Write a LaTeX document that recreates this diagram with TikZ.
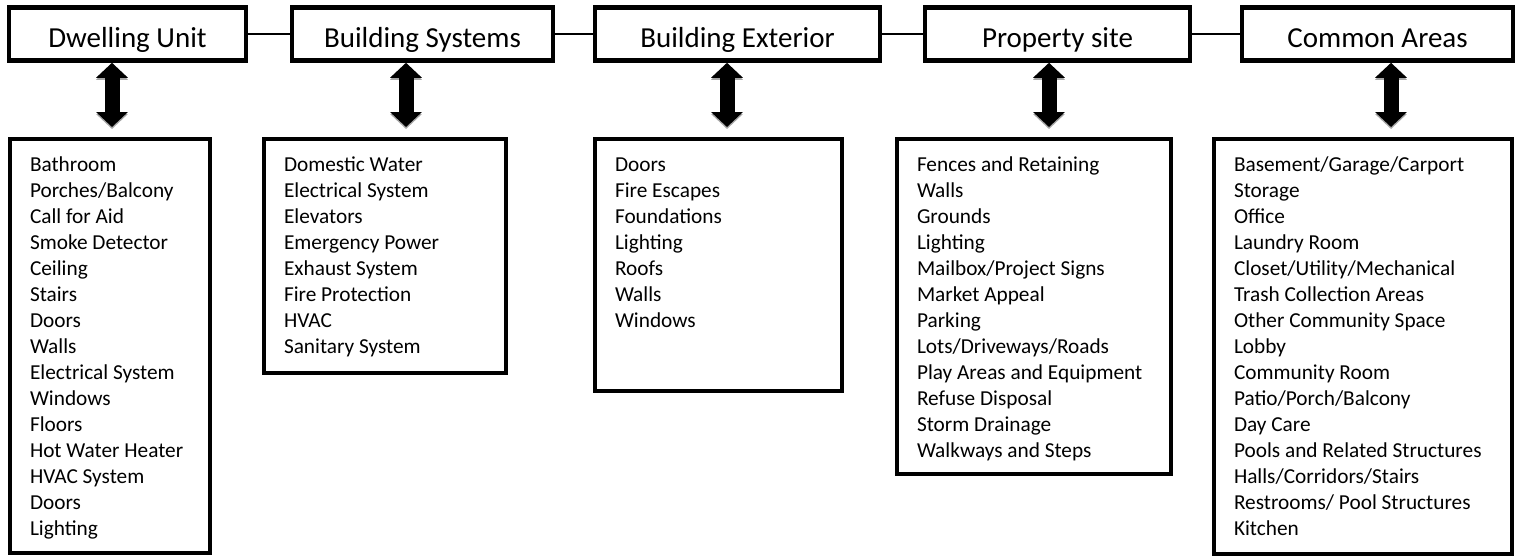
\documentclass[tikz,border=0pt]{standalone}
\usepackage{fontspec}
\setmainfont{Carlito}
\usetikzlibrary{arrows.meta}

\begin{document}
\begin{tikzpicture}[
    x=1pt, y=-1pt,
    topbox/.style={rectangle, draw, line width=4.5pt, minimum height=53pt, text height=26pt, text depth=0pt,
        font=\fontsize{29}{34}\selectfont},
    listbox/.style={rectangle, draw, line width=4.5pt, anchor=north west, outer sep=0pt,
        inner xsep=20pt, inner ysep=0pt, text height=32pt, font=\fontsize{21.3}{26}\selectfont},
    link/.style={line width=1.5pt},
    dblarrow/.style={line width=15pt, {Triangle[width=31pt,length=15pt]}-{Triangle[width=31pt,length=15pt]}, shorten >=12pt},
    arrshadow/.style={dblarrow, gray!70, transform canvas={yshift=-2pt}}
]

\path[use as bounding box, fill=white] (0,0) rectangle (1522,558);

% Top row: the five areas
\node[topbox, minimum width=237pt] (du) at (127.5,34) {Dwelling Unit};
\node[topbox, minimum width=261pt] (bs) at (422.5,34) {Building Systems};
\node[topbox, minimum width=285pt] (be) at (737.5,34) {Building Exterior};
\node[topbox, minimum width=265pt] (ps) at (1057.5,34) {Property site};
\node[topbox, minimum width=271pt] (ca) at (1377.5,34) {Common Areas};

% Links between the areas
\draw[link] (du.east) -- (bs.west);
\draw[link] (bs.east) -- (be.west);
\draw[link] (be.east) -- (ps.west);
\draw[link] (ps.east) -- (ca.west);

% Bottom row: item lists
\node[listbox, minimum width=200pt, text depth=382pt] (list1) at (10,139) {\parbox[t]{160pt}{%
    Bathroom\\Porches/Balcony\\Call for Aid\\Smoke Detector\\Ceiling\\Stairs\\Doors\\Walls\\
    Electrical System\\Windows\\Floors\\Hot Water Heater\\HVAC System\\Doors\\Lighting}};
\node[listbox, minimum width=242pt, text depth=202pt] (list2) at (264,139) {\parbox[t]{202pt}{%
    Domestic Water\\Electrical System\\Elevators\\Emergency Power\\Exhaust System\\
    Fire Protection\\HVAC\\Sanitary System}};
\node[listbox, minimum width=247pt, text depth=220pt] (list3) at (595,139) {\parbox[t]{207pt}{%
    Doors\\Fire Escapes\\Foundations\\Lighting\\Roofs\\Walls\\Windows}};
\node[listbox, minimum width=274pt, text depth=303pt] (list4) at (897,139) {\parbox[t]{234pt}{%
    Fences and Retaining\\Walls\\Grounds\\Lighting\\Mailbox/Project Signs\\Market Appeal\\
    Parking\\Lots/Driveways/Roads\\Play Areas and Equipment\\Refuse Disposal\\
    Storm Drainage\\Walkways and Steps}};
\node[listbox, minimum width=298pt, text depth=383pt] (list5) at (1214,139) {\parbox[t]{258pt}{%
    Basement/Garage/Carport\\Storage\\Office\\Laundry Room\\Closet/Utility/Mechanical\\
    Trash Collection Areas\\Other Community Space\\Lobby\\Community Room\\
    Patio/Porch/Balcony\\Day Care\\Pools and Related Structures\\Halls/Corridors/Stairs\\
    Restrooms/ Pool Structures\\Kitchen}};

% Double arrows from each area to its list
\foreach \up/\down/\x in {du/list1/112, bs/list2/406, be/list3/727, ps/list4/1049, ca/list5/1391} {
    \coordinate (mid) at (\x,0);
    \draw[arrshadow] (\up.south -| mid) -- (\down.north -| mid);
    \draw[dblarrow] (\up.south -| mid) -- (\down.north -| mid);
}

\end{tikzpicture}
\end{document}
